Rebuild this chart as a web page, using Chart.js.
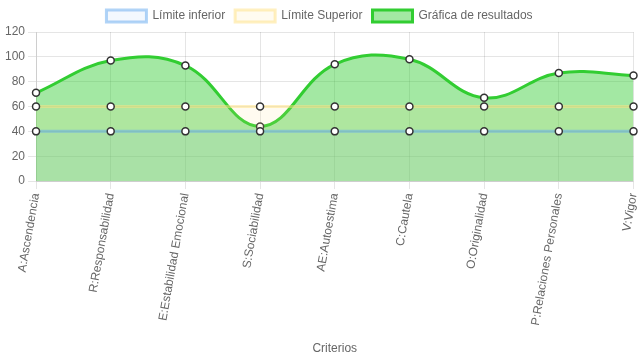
<!DOCTYPE html>
<html>
<head>
<meta charset="utf-8">
<script src="https://cdn.jsdelivr.net/npm/chart.js@4/dist/chart.umd.min.js"></script>
<style>
  body { margin: 0; background: #fff; }
  #wrap { width: 639px; height: 360px; }
</style>
</head>
<body>
<div id="wrap"><canvas id="chart"></canvas></div>
<script>
const criterios = ['A:Ascendencia', 'R:Responsabilidad', 'E:Estabilidad Emocional', 'S:Sociabilidad',
    'AE:Autoestima', 'C:Cautela', 'O:Originalidad', 'P:Relaciones Personales', 'V:Vigor'];
const limiteInferior = [40, 40, 40, 40, 40, 40, 40, 40, 40];
const limiteSuperior = [60, 60, 60, 60, 60, 60, 60, 60, 60];
const resultados = [71, 97, 93, 44, 94, 98, 67, 87, 85];

Chart.defaults.font.family = "'Liberation Sans', Arial, sans-serif";
Chart.defaults.font.size = 12;
Chart.defaults.color = '#666';

const ctx = document.getElementById('chart').getContext('2d');
new Chart(ctx, {
    type: 'line',
    data: {
        labels: criterios,
        datasets: [{
            label: 'Límite inferior',
            data: limiteInferior,
            borderColor: 'rgba(100, 170, 240, 0.5)',
            backgroundColor: 'rgba(100, 170, 240, 0.08)',
            borderWidth: 3,
            fill: 'origin',
            pointBackgroundColor: '#fff',
            pointBorderColor: '#333',
            pointBorderWidth: 1.5,
            pointRadius: 3.5,
            tension: 0.4
        }, {
            label: 'Límite Superior',
            data: limiteSuperior,
            borderColor: 'rgba(255, 225, 130, 0.5)',
            backgroundColor: 'rgba(255, 225, 130, 0.12)',
            borderWidth: 3,
            fill: 'origin',
            pointBackgroundColor: '#fff',
            pointBorderColor: '#333',
            pointBorderWidth: 1.5,
            pointRadius: 3.5,
            tension: 0.4
        }, {
            label: 'Gráfica de resultados',
            data: resultados,
            borderColor: 'rgb(50, 205, 50)',
            backgroundColor: 'rgba(50, 205, 50, 0.45)',
            borderWidth: 3,
            fill: 'origin',
            pointBackgroundColor: '#fff',
            pointBorderColor: '#333',
            pointBorderWidth: 1.5,
            pointRadius: 3.5,
            tension: 0.4
        }]
    },
    options: {
        responsive: true,
        maintainAspectRatio: false,
        animation: false,
        plugins: {
            legend: {
                labels: { boxWidth: 40, boxHeight: 12 }
            },
            tooltip: { enabled: false }
        },
        scales: {
            x: {
                title: { display: true, text: 'Criterios' },
                ticks: { minRotation: 80, maxRotation: 80 },
                afterFit: function(scale) {
                    scale.height += 8;
                    scale.paddingRight = 4;
                }
            },
            y: {
                min: 0,
                max: 120,
                ticks: { stepSize: 20 },
                afterFit: function(scale) {
                    scale.width += 2;
                }
            }
        }
    }
});
</script>
</body>
</html>
